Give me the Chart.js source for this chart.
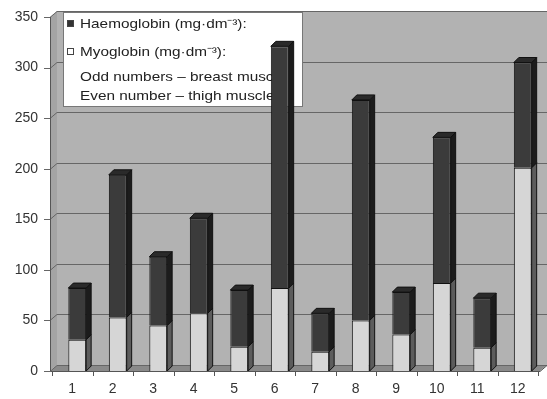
<!DOCTYPE html>
<html>
<head>
<meta charset="utf-8">
<script src="https://cdn.jsdelivr.net/npm/chart.js@4.4.0/dist/chart.umd.min.js"></script>
<style>
  html, body { margin: 0; padding: 0; background: #fff; }
  #wrap { width: 547px; height: 399px; }
</style>
</head>
<body>
<div id="wrap"><canvas id="muscle"></canvas></div>
<script>
// sample numbers 1-12 (odd = breast, even = thigh)
var samples = ["1", "2", "3", "4", "5", "6", "7", "8", "9", "10", "11", "12"];
var myoglobin = [31, 53, 45, 57, 24, 82, 19, 50, 36, 87, 23, 201];
var haemoglobin = [51, 141, 68, 94, 56, 239, 38, 218, 42, 144, 49, 104];
var yTicks = [0, 50, 100, 150, 200, 250, 300, 350];

var legendLines = [
    { text: "Haemoglobin (mg·dm⁻³):", box: "#333333" },
    { text: "Myoglobin (mg·dm⁻³):", box: "#ffffff" },
    { text: "Odd numbers – breast muscle" },
    { text: "Even number – thigh muscle" }
];

var WALL_DX = 7, WALL_DY = 6;   // depth of the 3d walls
var BAR_D = 5;                  // depth of the bars

var sideColors = ["#5c5c5c", "#1c1c1c"];
var topColors = ["#9a9a9a", "#2a2a2a"];

var walls = {
    id: 'walls',
    beforeDatasetsDraw: function (chart) {
        var c = chart.ctx, a = chart.chartArea, y = chart.scales.y;
        var fl = a.left - WALL_DX, bl = a.left, fr = a.right - 3, br = a.right + 4;
        var fb = a.bottom, bb = a.bottom - WALL_DY;
        var top = y.getPixelForValue(350);
        c.save();
        // back wall
        c.fillStyle = '#b2b2b2';
        c.fillRect(bl, top - WALL_DY, br - bl, bb - top + WALL_DY);
        // left wall
        c.fillStyle = '#a4a4a4';
        c.beginPath();
        c.moveTo(fl, top); c.lineTo(bl, top - WALL_DY); c.lineTo(bl, bb); c.lineTo(fl, fb);
        c.closePath(); c.fill();
        // floor
        c.fillStyle = '#8a8a8a';
        c.beginPath();
        c.moveTo(fl, fb); c.lineTo(bl, bb); c.lineTo(br, bb); c.lineTo(fr, fb);
        c.closePath(); c.fill();
        // grid lines
        c.strokeStyle = '#666';
        c.lineWidth = 1;
        yTicks.forEach(function (v) {
            var py = Math.round(y.getPixelForValue(v)) + 0.5;
            c.beginPath();
            c.moveTo(fl - 6, py); c.lineTo(fl, py);
            c.lineTo(bl, py - WALL_DY); c.lineTo(br, py - WALL_DY);
            c.stroke();
        });
        // axes
        c.strokeStyle = '#555';
        c.beginPath();
        c.moveTo(fl + 0.5, top); c.lineTo(fl + 0.5, fb + 0.5); c.lineTo(fr, fb + 0.5);
        c.lineTo(br, bb + 0.5);
        c.stroke();
        // x ticks between categories
        var step = (a.right - a.left) / samples.length;
        for (var i = 0; i <= samples.length; i++) {
            var px = Math.round(a.left - 5 + i * step) + 0.5;
            c.beginPath(); c.moveTo(px, fb); c.lineTo(px, fb + 5); c.stroke();
        }
        // legend box
        c.fillStyle = '#ffffff';
        c.fillRect(63, 12, 239, 94);
        c.strokeStyle = '#777';
        c.strokeRect(63.5, 12.5, 239, 94);
        var rows = [24, 52, 77, 96];
        c.font = '13px "Liberation Sans", Arial, sans-serif';
        c.textBaseline = 'middle';
        legendLines.forEach(function (l, k) {
            if (l.box) {
                c.fillStyle = l.box;
                c.fillRect(67, rows[k] - 4, 7, 7);
                c.strokeStyle = '#444';
                c.strokeRect(67.5, rows[k] - 3.5, 6, 6);
            }
            c.save();
            c.translate(80, rows[k]);
            c.scale(1.18, 1);
            c.fillStyle = '#222';
            c.fillText(l.text, 0, 0);
            c.restore();
        });
        c.restore();
    },
    afterDatasetsDraw: function (chart) {
        var c = chart.ctx;
        c.save();
        c.strokeStyle = '#111';
        c.lineWidth = 1;
        chart.data.datasets.forEach(function (ds, di) {
            var meta = chart.getDatasetMeta(di);
            meta.data.forEach(function (bar) {
                var l = bar.x - bar.width / 2, r = bar.x + bar.width / 2;
                c.fillStyle = sideColors[di];
                c.beginPath();
                c.moveTo(r, bar.y); c.lineTo(r + BAR_D, bar.y - BAR_D);
                c.lineTo(r + BAR_D, bar.base - BAR_D); c.lineTo(r, bar.base);
                c.closePath(); c.fill(); c.stroke();
                if (di === chart.data.datasets.length - 1) {
                    c.fillStyle = topColors[di];
                    c.beginPath();
                    c.moveTo(l, bar.y); c.lineTo(l + BAR_D, bar.y - BAR_D);
                    c.lineTo(r + BAR_D, bar.y - BAR_D); c.lineTo(r, bar.y);
                    c.closePath(); c.fill(); c.stroke();
                }
            });
        });
        c.restore();
    }
};

var ctx = document.getElementById('muscle').getContext('2d');
var chart = new Chart(ctx, {
    type: 'bar',
    data: {
        labels: samples,
        datasets: [{
            label: 'Myoglobin (mg·dm⁻³)',
            data: myoglobin,
            backgroundColor: '#d6d6d6',
            borderColor: '#111',
            borderWidth: 1,
            barPercentage: 0.44,
            categoryPercentage: 1
        }, {
            label: 'Haemoglobin (mg·dm⁻³)',
            data: haemoglobin,
            backgroundColor: '#3b3b3b',
            borderColor: '#111',
            borderWidth: 1,
            barPercentage: 0.44,
            categoryPercentage: 1
        }]
    },
    options: {
        responsive: true,
        maintainAspectRatio: false,
        animation: false,
        layout: { padding: { top: 17, right: 4, left: 0, bottom: 0 } },
        plugins: {
            legend: { display: false },
            tooltip: { enabled: false }
        },
        scales: {
            x: {
                stacked: true,
                grid: { display: false, drawTicks: false },
                border: { display: false },
                ticks: {
                    color: '#333',
                    padding: 10,
                    labelOffset: -5,
                    font: { family: '"Liberation Sans", Arial', size: 14 }
                },
                afterFit: function (s) { s.height = 28; s.paddingLeft = 0; s.paddingRight = 0; }
            },
            y: {
                stacked: true,
                min: 0,
                max: 350,
                grid: { display: false, drawTicks: false },
                border: { display: false },
                ticks: {
                    stepSize: 50,
                    color: '#333',
                    padding: 19,
                    font: { family: '"Liberation Sans", Arial', size: 14 }
                },
                afterFit: function (s) { s.width = 57; s.paddingTop = 0; s.paddingBottom = 0; }
            }
        }
    },
    plugins: [walls]
});
</script>
</body>
</html>
